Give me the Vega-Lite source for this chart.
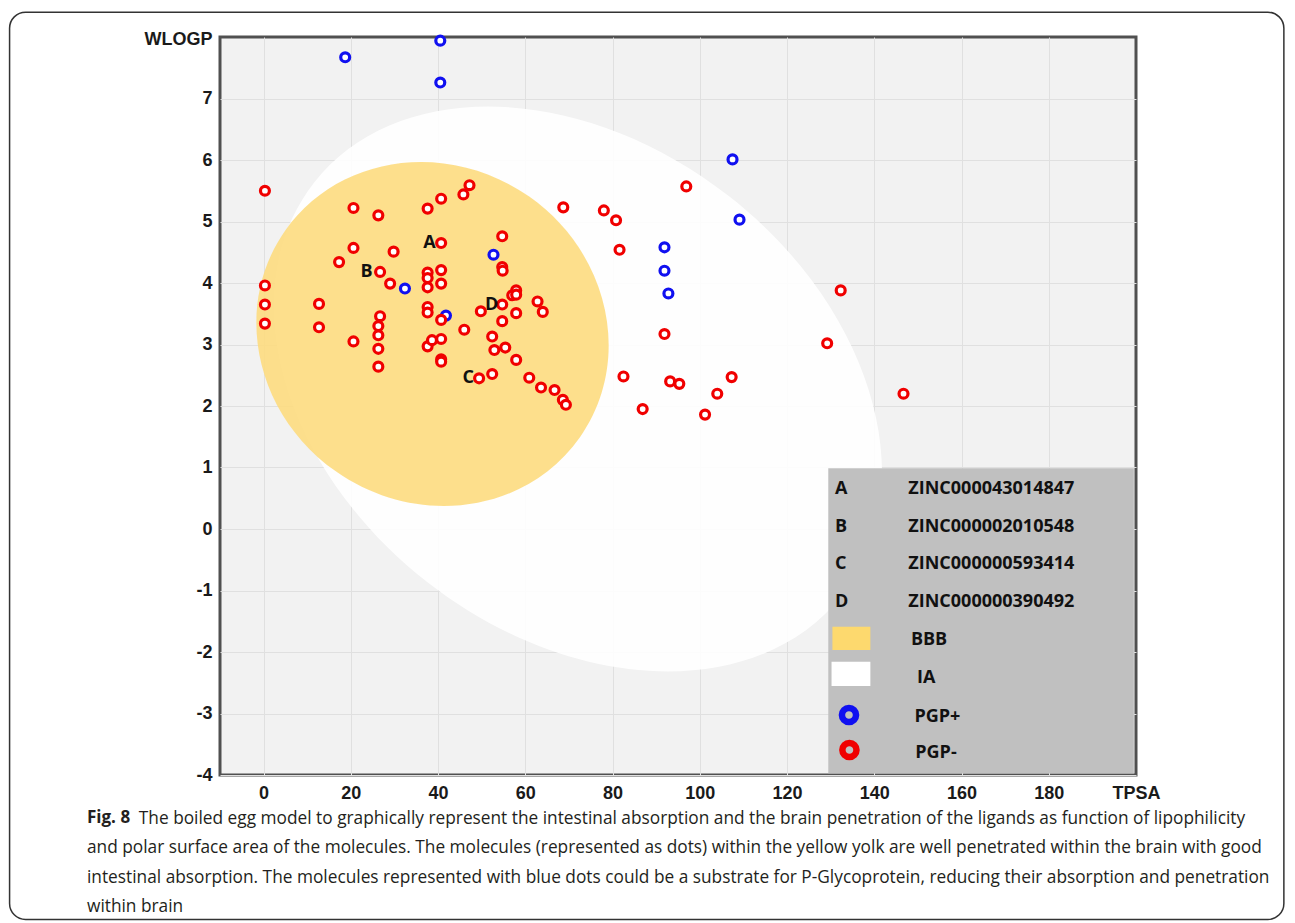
{
  "$schema": "https://vega.github.io/schema/vega-lite/v6.json",
  "width": 916,
  "height": 738,
  "autosize": {"type": "none"},
  "padding": {"left": 220, "top": 37, "right": 159, "bottom": 148},
  "background": "white",
  "config": {
    "view": {"fill": "#f2f2f2", "stroke": "#505050", "strokeWidth": 3},
    "axis": {
      "labelFont": "Liberation Sans", "labelFontWeight": "bold", "labelFontSize": 18, "labelColor": "#1a1a1a",
      "titleFont": "Liberation Sans", "titleFontWeight": "bold", "titleFontSize": 18, "titleColor": "#1a1a1a",
      "gridColor": "#e0e0e0", "gridWidth": 1, "ticks": false, "domain": false, "labelFlush": false, "labelBound": false
    }
  },
  "title": {
    "text": "Fig. 8",
    "subtitle": [
      "\u200b\u2003\u2003\u2003The boiled egg model to graphically represent the intestinal absorption and the brain penetration of the ligands as function of lipophilicity",
      "and polar surface area of the molecules. The molecules (represented as dots) within the yellow yolk are well penetrated within the brain with good",
      "intestinal absorption. The molecules represented with blue dots could be a substrate for P-Glycoprotein, reducing their absorption and penetration",
      "within brain"
    ],
    "orient": "bottom", "anchor": "start", "frame": "group",
    "dx": -133, "offset": -110,
    "font": "Open Sans", "fontSize": 17, "fontWeight": "bold", "color": "#231f20",
    "subtitleFont": "Open Sans", "subtitleFontSize": 17.3, "subtitleFontWeight": "normal", "subtitleColor": "#231f20",
    "subtitlePadding": -17.3, "subtitleLineHeight": 29.5
  },
  "datasets": {
    "eggs": [
      {"zone": "IA", "x": 72.07, "y": 2.276},
      {"zone": "BBB", "x": 38.72, "y": 3.171}
    ],
    "dots": [
      {"x": 18.7, "y": 7.67, "pgp": "PGP+"},
      {"x": 40.5, "y": 7.94, "pgp": "PGP+"},
      {"x": 40.5, "y": 7.26, "pgp": "PGP+"},
      {"x": 107.5, "y": 6.01, "pgp": "PGP+"},
      {"x": 109.1, "y": 5.03, "pgp": "PGP+"},
      {"x": 91.9, "y": 4.58, "pgp": "PGP+"},
      {"x": 91.9, "y": 4.20, "pgp": "PGP+"},
      {"x": 92.8, "y": 3.83, "pgp": "PGP+"},
      {"x": 52.7, "y": 4.46, "pgp": "PGP+"},
      {"x": 32.4, "y": 3.91, "pgp": "PGP+"},
      {"x": 41.8, "y": 3.47, "pgp": "PGP+"},
      {"x": 0.3, "y": 5.50, "pgp": "PGP-"},
      {"x": 20.6, "y": 5.22, "pgp": "PGP-"},
      {"x": 26.3, "y": 5.10, "pgp": "PGP-"},
      {"x": 37.6, "y": 5.21, "pgp": "PGP-"},
      {"x": 40.7, "y": 5.37, "pgp": "PGP-"},
      {"x": 45.8, "y": 5.44, "pgp": "PGP-"},
      {"x": 47.2, "y": 5.59, "pgp": "PGP-"},
      {"x": 68.7, "y": 5.23, "pgp": "PGP-"},
      {"x": 40.7, "y": 4.65, "pgp": "PGP-"},
      {"x": 54.7, "y": 4.76, "pgp": "PGP-"},
      {"x": 20.6, "y": 4.57, "pgp": "PGP-"},
      {"x": 29.8, "y": 4.51, "pgp": "PGP-"},
      {"x": 17.3, "y": 4.34, "pgp": "PGP-"},
      {"x": 26.7, "y": 4.18, "pgp": "PGP-"},
      {"x": 37.6, "y": 4.17, "pgp": "PGP-"},
      {"x": 37.6, "y": 4.08, "pgp": "PGP-"},
      {"x": 40.7, "y": 4.21, "pgp": "PGP-"},
      {"x": 54.7, "y": 4.26, "pgp": "PGP-"},
      {"x": 54.8, "y": 4.20, "pgp": "PGP-"},
      {"x": 29.0, "y": 3.99, "pgp": "PGP-"},
      {"x": 37.6, "y": 3.93, "pgp": "PGP-"},
      {"x": 40.7, "y": 3.99, "pgp": "PGP-"},
      {"x": 0.3, "y": 3.96, "pgp": "PGP-"},
      {"x": 0.3, "y": 3.65, "pgp": "PGP-"},
      {"x": 0.3, "y": 3.34, "pgp": "PGP-"},
      {"x": 12.7, "y": 3.66, "pgp": "PGP-"},
      {"x": 12.7, "y": 3.28, "pgp": "PGP-"},
      {"x": 20.6, "y": 3.05, "pgp": "PGP-"},
      {"x": 26.7, "y": 3.46, "pgp": "PGP-"},
      {"x": 26.3, "y": 3.30, "pgp": "PGP-"},
      {"x": 26.3, "y": 3.15, "pgp": "PGP-"},
      {"x": 26.3, "y": 2.93, "pgp": "PGP-"},
      {"x": 26.3, "y": 2.64, "pgp": "PGP-"},
      {"x": 37.6, "y": 3.61, "pgp": "PGP-"},
      {"x": 37.6, "y": 3.52, "pgp": "PGP-"},
      {"x": 40.7, "y": 3.40, "pgp": "PGP-"},
      {"x": 37.6, "y": 2.97, "pgp": "PGP-"},
      {"x": 38.6, "y": 3.07, "pgp": "PGP-"},
      {"x": 40.7, "y": 3.09, "pgp": "PGP-"},
      {"x": 40.7, "y": 2.76, "pgp": "PGP-"},
      {"x": 40.7, "y": 2.72, "pgp": "PGP-"},
      {"x": 46.0, "y": 3.24, "pgp": "PGP-"},
      {"x": 49.8, "y": 3.54, "pgp": "PGP-"},
      {"x": 54.7, "y": 3.65, "pgp": "PGP-"},
      {"x": 57.0, "y": 3.80, "pgp": "PGP-"},
      {"x": 57.9, "y": 3.88, "pgp": "PGP-"},
      {"x": 57.9, "y": 3.81, "pgp": "PGP-"},
      {"x": 54.7, "y": 3.38, "pgp": "PGP-"},
      {"x": 57.9, "y": 3.51, "pgp": "PGP-"},
      {"x": 62.8, "y": 3.70, "pgp": "PGP-"},
      {"x": 64.0, "y": 3.53, "pgp": "PGP-"},
      {"x": 52.4, "y": 3.13, "pgp": "PGP-"},
      {"x": 52.9, "y": 2.91, "pgp": "PGP-"},
      {"x": 55.4, "y": 2.95, "pgp": "PGP-"},
      {"x": 57.9, "y": 2.75, "pgp": "PGP-"},
      {"x": 49.4, "y": 2.45, "pgp": "PGP-"},
      {"x": 52.4, "y": 2.52, "pgp": "PGP-"},
      {"x": 60.9, "y": 2.46, "pgp": "PGP-"},
      {"x": 63.6, "y": 2.30, "pgp": "PGP-"},
      {"x": 66.7, "y": 2.26, "pgp": "PGP-"},
      {"x": 68.6, "y": 2.10, "pgp": "PGP-"},
      {"x": 69.3, "y": 2.02, "pgp": "PGP-"},
      {"x": 78.0, "y": 5.18, "pgp": "PGP-"},
      {"x": 80.8, "y": 5.02, "pgp": "PGP-"},
      {"x": 81.6, "y": 4.54, "pgp": "PGP-"},
      {"x": 91.9, "y": 3.17, "pgp": "PGP-"},
      {"x": 82.5, "y": 2.48, "pgp": "PGP-"},
      {"x": 86.9, "y": 1.95, "pgp": "PGP-"},
      {"x": 96.9, "y": 5.57, "pgp": "PGP-"},
      {"x": 132.3, "y": 3.88, "pgp": "PGP-"},
      {"x": 129.2, "y": 3.02, "pgp": "PGP-"},
      {"x": 93.2, "y": 2.40, "pgp": "PGP-"},
      {"x": 95.3, "y": 2.36, "pgp": "PGP-"},
      {"x": 107.3, "y": 2.47, "pgp": "PGP-"},
      {"x": 104.0, "y": 2.20, "pgp": "PGP-"},
      {"x": 101.2, "y": 1.86, "pgp": "PGP-"},
      {"x": 146.7, "y": 2.20, "pgp": "PGP-"}
    ],
    "letters": [
      {"x": 38.0, "y": 4.65, "label": "A"},
      {"x": 23.6, "y": 4.18, "label": "B"},
      {"x": 46.9, "y": 2.46, "label": "C"},
      {"x": 52.3, "y": 3.65, "label": "D"}
    ],
    "legendbox": [
      {"x": 129.45, "x2": 199.5, "y": 0.987, "y2": -3.97}
    ],
    "legendtext": [
      {"x": 131.0, "y": 0.645, "label": "A"},
      {"x": 131.0, "y": 0.037, "label": "B"},
      {"x": 131.0, "y": -0.574, "label": "C"},
      {"x": 131.0, "y": -1.182, "label": "D"},
      {"x": 147.8, "y": 0.645, "label": "ZINC000043014847"},
      {"x": 147.8, "y": 0.037, "label": "ZINC000002010548"},
      {"x": 147.8, "y": -0.574, "label": "ZINC000000593414"},
      {"x": 147.8, "y": -1.182, "label": "ZINC000000390492"},
      {"x": 148.4, "y": -1.805, "label": "BBB"},
      {"x": 149.8, "y": -2.428, "label": "IA"},
      {"x": 149.2, "y": -3.052, "label": "PGP+"},
      {"x": 149.4, "y": -3.647, "label": "PGP-"}
    ],
    "legendswatch": [
      {"x": 130.4, "x2": 139.1, "y": -1.589, "y2": -1.967, "zone": "BBB"},
      {"x": 130.2, "x2": 139.1, "y": -2.157, "y2": -2.553, "zone": "IA"}
    ],
    "legendsym": [
      {"x": 134.2, "y": -3.024, "pgp": "PGP+"},
      {"x": 134.3, "y": -3.593, "pgp": "PGP-"}
    ],
    "frame": [
      {"x": -58.24, "x2": 233.9, "y": 8.403, "y2": -6.35}
    ]
  },
  "encoding": {
    "x": {
      "field": "x", "type": "quantitative",
      "scale": {"domain": [-10, 200], "nice": false, "zero": false},
      "axis": {
        "values": [0, 20, 40, 60, 80, 100, 120, 140, 160, 180],
        "title": "TPSA", "titleX": 916, "titleY": 18, "titleAlign": "center", "titleBaseline": "middle",
        "labelPadding": 9, "labelAngle": 0
      }
    },
    "y": {
      "field": "y", "type": "quantitative",
      "scale": {"domain": [-4, 8], "nice": false, "zero": false},
      "axis": {
        "values": [-4, -3, -2, -1, 0, 1, 2, 3, 4, 5, 6, 7],
        "labelExpr": "datum.value < 0 ? '-' + abs(datum.value) : '' + datum.value",
        "title": "WLOGP", "titleAngle": 0, "titleX": -42, "titleY": 2, "titleAlign": "center", "titleBaseline": "middle",
        "labelPadding": 8
      }
    }
  },
  "layer": [
    {
      "data": {"name": "eggs"},
      "transform": [{"filter": "datum.zone === 'IA'"}],
      "mark": {
        "type": "point", "filled": true, "color": "#ffffff", "opacity": 0.9, "strokeWidth": 0,
        "size": 448900, "angle": 38,
        "shape": "M 1 0 C 1 0.4039 0.5523 0.7313 0 0.7313 C -0.5523 0.7313 -1 0.4039 -1 0 C -1 -0.4039 -0.5523 -0.7313 0 -0.7313 C 0.5523 -0.7313 1 -0.4039 1 0 Z"
      }
    },
    {
      "data": {"name": "eggs"},
      "transform": [{"filter": "datum.zone === 'BBB'"}],
      "mark": {
        "type": "point", "filled": true, "color": "#fddc80", "opacity": 0.9, "strokeWidth": 0,
        "size": 129600, "angle": 35,
        "shape": "M 1 0 C 1 0.5155 0.5523 0.9333 0 0.9333 C -0.5523 0.9333 -1 0.5155 -1 0 C -1 -0.5155 -0.5523 -0.9333 0 -0.9333 C 0.5523 -0.9333 1 -0.5155 1 0 Z"
      }
    },
    {
      "data": {"name": "dots"},
      "mark": {"type": "point", "filled": false, "fill": "#ffffff", "fillOpacity": 1, "strokeWidth": 3.2, "size": 80, "opacity": 1},
      "encoding": {
        "stroke": {"field": "pgp", "type": "nominal", "scale": {"domain": ["PGP+", "PGP-"], "range": ["#1010f0", "#f00000"]}, "legend": null}
      }
    },
    {
      "data": {"name": "letters"},
      "mark": {"type": "text", "font": "Open Sans", "fontWeight": "bold", "fontSize": 18, "color": "#111111", "align": "center", "baseline": "middle"},
      "encoding": {"text": {"field": "label"}}
    },
    {
      "data": {"name": "legendbox"},
      "mark": {"type": "rect", "color": "#c0c0c0"},
      "encoding": {"x2": {"field": "x2"}, "y2": {"field": "y2"}}
    },
    {
      "data": {"name": "legendswatch"},
      "mark": {"type": "rect"},
      "encoding": {
        "x2": {"field": "x2"}, "y2": {"field": "y2"},
        "fill": {"field": "zone", "type": "nominal", "scale": {"domain": ["BBB", "IA"], "range": ["#fdd96e", "#ffffff"]}, "legend": null}
      }
    },
    {
      "data": {"name": "legendsym"},
      "mark": {"type": "point", "filled": false, "strokeWidth": 6.5, "size": 200, "opacity": 1},
      "encoding": {
        "stroke": {"field": "pgp", "type": "nominal", "scale": {"domain": ["PGP+", "PGP-"], "range": ["#1a72c8", "#ff0000"]}, "legend": null}
      }
    },
    {
      "data": {"name": "legendtext"},
      "mark": {"type": "text", "font": "Open Sans", "fontWeight": "bold", "fontSize": 18, "color": "#111111", "align": "left", "baseline": "middle"},
      "encoding": {"text": {"field": "label"}}
    },
    {
      "data": {"name": "frame"},
      "mark": {"type": "rect", "fill": null, "filled": false, "stroke": "#333333", "strokeWidth": 1.5, "cornerRadius": 16},
      "encoding": {"x2": {"field": "x2"}, "y2": {"field": "y2"}}
    }
  ]
}
